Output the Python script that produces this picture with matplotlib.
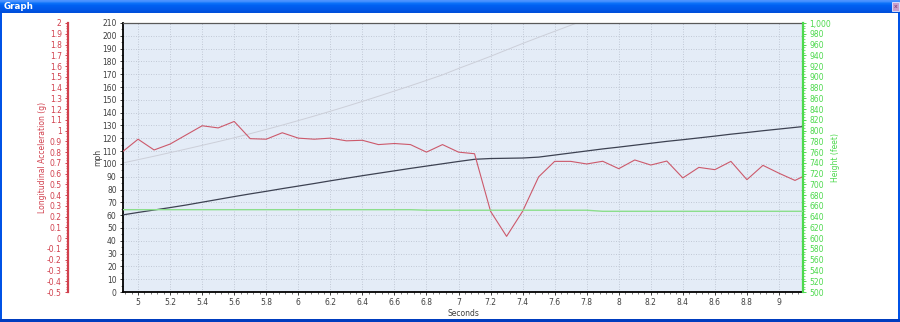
import matplotlib
matplotlib.use("Agg")
import matplotlib.pyplot as plt
import numpy as np
from matplotlib.patches import Rectangle
from matplotlib.ticker import MultipleLocator, AutoMinorLocator, FuncFormatter

# ---------------- data ----------------
times = [4.9, 5.0, 5.1, 5.2, 5.3, 5.4, 5.5, 5.6, 5.7, 5.8, 5.9,
         6.0, 6.1, 6.2, 6.3, 6.4, 6.5, 6.6, 6.7, 6.8, 6.9,
         7.0, 7.1, 7.2, 7.3, 7.4, 7.5, 7.6, 7.7, 7.8, 7.9,
         8.0, 8.1, 8.2, 8.3, 8.4, 8.5, 8.6, 8.7, 8.8, 8.9,
         9.0, 9.1, 9.2]

accel_g = [0.80, 0.92, 0.82, 0.875, 0.96, 1.045, 1.025, 1.085, 0.925, 0.92, 0.98,
           0.93, 0.92, 0.93, 0.905, 0.91, 0.87, 0.88, 0.87, 0.80, 0.87,
           0.80, 0.785, 0.25, 0.017, 0.25, 0.57, 0.714, 0.714, 0.69, 0.715,
           0.646, 0.727, 0.68, 0.717, 0.56, 0.658, 0.637, 0.714, 0.544, 0.677,
           0.604, 0.537, 0.61]

speed_mph = [60.1, 62.1, 64.0, 65.9, 67.9, 70.1, 72.3, 74.5, 76.6, 78.6, 80.7,
             82.7, 84.7, 86.8, 88.8, 90.8, 92.7, 94.6, 96.5, 98.3, 100.1,
             101.9, 103.6, 104.2, 104.4, 104.6, 105.3, 106.9, 108.5, 110.1, 111.7,
             113.1, 114.6, 116.1, 117.6, 118.9, 120.3, 121.7, 123.2, 124.5, 125.9,
             127.2, 128.5, 129.8]

height_ft = [653, 653, 653, 653, 653, 653, 653, 653, 653, 653, 653,
             653, 653, 653, 653, 653, 653, 653, 653, 652, 652,
             652, 652, 652, 652, 652, 652, 652, 652, 652, 650,
             650, 650, 650, 650, 650, 650, 650, 650, 650, 650,
             650, 650, 650]

# light grey trace (drawn on the mph scale)
grey_trace = [100.6, 103.3, 106.0, 108.8, 111.6, 114.5, 117.4, 120.4, 123.6, 126.9, 130.3,
              133.8, 137.4, 141.1, 144.9, 148.8, 152.8, 156.9, 161.0, 165.2, 169.5,
              174.5, 179.2, 184.0, 189.0, 194.0, 198.8, 203.5, 208.2, 213.0]

x_range = (4.906, 9.15)
mph_range = (0, 210)
g_range = (-0.5, 2.0)
ft_range = (500, 1000)

# ---------------- figure ----------------
W, H = 900, 322
fig = plt.figure(figsize=(W / 100, H / 100), dpi=100)
fig.patch.set_facecolor("white")

def fx(px):
    return px / W

def fy(py):
    return 1 - py / H

# title bar
bar = fig.add_axes([0, fy(13), 1, 13 / H])
grad = np.array([[0.30, 0.58, 1.00], [0.05, 0.45, 0.98], [0.0, 0.38, 0.95],
                 [0.0, 0.36, 0.93], [0.0, 0.34, 0.91], [0.0, 0.31, 0.86]])
bar.imshow(grad[:, None, :], aspect="auto", extent=(0, 1, 0, 1), interpolation="bilinear")
bar.set_axis_off()
bar.text(fx(4), 0.5, "Graph", color="white", fontsize=6.3, fontweight="bold",
         va="center", ha="left", transform=bar.transAxes)
bar.add_patch(Rectangle((fx(892), 0.15), fx(7), 0.7, facecolor=(0.78, 0.62, 0.80),
                        edgecolor=(0.92, 0.92, 1.0), linewidth=0.6, transform=bar.transAxes))
bar.text(fx(895.5), 0.5, "x", color=(0.45, 0.2, 0.4), fontsize=4.5, ha="center", va="center",
         transform=bar.transAxes)

border_col = (0.0, 0.32, 0.90)
fig.patches.append(Rectangle((0, 0), fx(2), fy(13), transform=fig.transFigure,
                             facecolor=border_col, edgecolor="none"))
fig.patches.append(Rectangle((fx(898), 0), fx(2), fy(13), transform=fig.transFigure,
                             facecolor=border_col, edgecolor="none"))
fig.patches.append(Rectangle((0, 0), 1, 3 / H, transform=fig.transFigure,
                             facecolor=(0.0, 0.24, 0.75), edgecolor="none"))

# main plot area
left_px, right_px, top_px, bot_px = 123, 803, 23, 292
ax = fig.add_axes([fx(left_px), fy(bot_px), fx(right_px - left_px), (bot_px - top_px) / H])
ax.set_facecolor((0.894, 0.925, 0.969))
ax.set_xlim(*x_range)
ax.set_ylim(*mph_range)

tick_col = (0.25, 0.25, 0.25)
red = (0.82, 0.25, 0.30)
line_red = (0.80, 0.35, 0.42)
green = (0.30, 0.85, 0.30)

ax.xaxis.set_major_locator(MultipleLocator(0.2))
ax.xaxis.set_minor_locator(AutoMinorLocator(5))
ax.xaxis.set_major_formatter(FuncFormatter(lambda v, p: "%g" % round(v, 2)))
ax.yaxis.set_major_locator(MultipleLocator(10))
ax.yaxis.set_minor_locator(AutoMinorLocator(2))
ax.yaxis.set_major_formatter(FuncFormatter(lambda v, p: "%d" % round(v)))
ax.tick_params(axis="both", which="major", labelsize=5.5, colors=tick_col, length=2.5,
               width=0.7, pad=2)
ax.tick_params(axis="both", which="minor", colors=tick_col, length=1.5, width=0.5)
ax.grid(True, which="major", color=(0.74, 0.77, 0.82), linestyle=(0, (1.2, 1.8)),
        linewidth=0.6)
for s in ["left", "bottom"]:
    ax.spines[s].set_color("black")
    ax.spines[s].set_linewidth(1.3)
ax.spines["top"].set_color((0.35, 0.35, 0.35))
ax.spines["top"].set_linewidth(0.9)
ax.spines["right"].set_visible(False)
ax.set_xlabel("Seconds", fontsize=5.5, color=tick_col, labelpad=1)
ax.set_ylabel("mph", fontsize=5.5, color=tick_col, labelpad=0)

ax.plot(times[:len(grey_trace)], grey_trace, color=(0.80, 0.81, 0.85), linewidth=0.7,
        zorder=2)
ax.plot(times, speed_mph, color=(0.24, 0.26, 0.32), linewidth=0.9, zorder=4)

# acceleration axis (left, red)
axg = ax.twinx()
axg.set_ylim(*g_range)
axg.spines["left"].set_position(("axes", (68 - left_px) / (right_px - left_px)))
axg.spines["left"].set_visible(True)
axg.spines["left"].set_color(red)
axg.spines["left"].set_linewidth(1.6)
for s in ["right", "top", "bottom"]:
    axg.spines[s].set_visible(False)
axg.yaxis.set_ticks_position("left")
axg.yaxis.set_label_position("left")
axg.yaxis.set_major_locator(MultipleLocator(0.1))
axg.yaxis.set_minor_locator(AutoMinorLocator(4))
axg.yaxis.set_major_formatter(FuncFormatter(lambda v, p: "%g" % (round(v, 2) + 0.0)))
axg.tick_params(axis="y", which="major", labelsize=5.5, colors=red, length=2.5, width=0.7,
                pad=2)
axg.tick_params(axis="y", which="minor", colors=red, length=1.3, width=0.5)
axg.set_ylabel("Longitudinal Acceleration (g)", fontsize=5.5, color=red, labelpad=0)
axg.plot(times, accel_g, color=line_red, linewidth=0.8, zorder=5)

# height axis (right, green)
axh = ax.twinx()
axh.set_ylim(*ft_range)
for s in ["left", "top", "bottom"]:
    axh.spines[s].set_visible(False)
axh.spines["right"].set_color(green)
axh.spines["right"].set_linewidth(1.6)
axh.yaxis.set_major_locator(MultipleLocator(20))
axh.yaxis.set_minor_locator(AutoMinorLocator(4))
axh.yaxis.set_major_formatter(FuncFormatter(lambda v, p: "{:,.0f}".format(v)))
axh.tick_params(axis="y", which="major", labelsize=5.5, colors=green, length=2.5, width=0.7,
                pad=2)
axh.tick_params(axis="y", which="minor", colors=green, length=1.3, width=0.5)
axh.set_ylabel("Height (feet)", fontsize=5.5, color=green, labelpad=0, rotation=90)
axh.plot(times, height_ft, color=(0.55, 0.87, 0.55), linewidth=1.0, zorder=3)

fig.savefig("out.png", dpi=100, facecolor="white")
